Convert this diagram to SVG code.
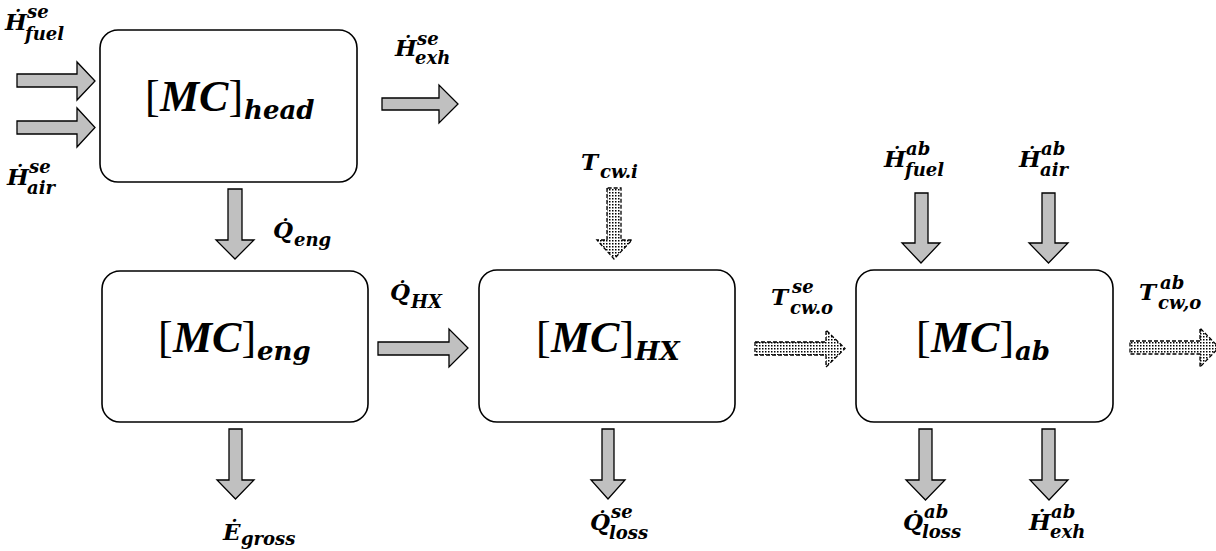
<svg xmlns="http://www.w3.org/2000/svg" width="1216" height="551" viewBox="0 0 1216 551">
<defs>
<pattern id="dots" width="3" height="3" patternUnits="userSpaceOnUse">
<rect width="3" height="3" fill="#fff"/>
<rect width="1.5" height="1.5" fill="#000"/>
</pattern>
</defs>
<style>
.box{fill:#fff;stroke:#000;stroke-width:1.6}
.arr{fill:#c0c0c0;stroke:#000;stroke-width:1.3;stroke-linejoin:miter}
.dot{fill:url(#dots);stroke:#000;stroke-width:1.3;stroke-dasharray:4 2}
text{fill:#000}
.big{font-family:"Liberation Serif","Times New Roman",serif;font-size:44px}
.mi{font-weight:bold;font-style:italic}
.bsub{font-family:"DejaVu Serif",serif;font-size:26px;font-weight:bold;font-style:italic}
.m{font-family:"DejaVu Serif",serif;font-weight:bold;font-style:italic}
.bs{font-size:23px}
.sc{font-size:18px}
</style>
<rect width="1216" height="551" fill="#fff"/>

<g id="node-head">
<rect class="box" x="100" y="30" width="257" height="152" rx="18"/>
<text class="big" y="111"><tspan x="145">[</tspan><tspan class="mi" x="160">MC</tspan><tspan x="228.5">]</tspan><tspan class="bsub" x="244" dy="8">head</tspan></text>
</g>
<g id="node-eng">
<rect class="box" x="102" y="271" width="266" height="151" rx="18"/>
<text class="big" y="352"><tspan x="158">[</tspan><tspan class="mi" x="173">MC</tspan><tspan x="241.5">]</tspan><tspan class="bsub" x="257" dy="8">eng</tspan></text>
</g>
<g id="node-hx">
<rect class="box" x="479" y="270" width="256" height="152" rx="18"/>
<text class="big" y="352"><tspan x="536">[</tspan><tspan class="mi" x="551">MC</tspan><tspan x="619.5">]</tspan><tspan class="bsub" x="635" dy="8">HX</tspan></text>
</g>
<g id="node-ab">
<rect class="box" x="856" y="270" width="257" height="152" rx="18"/>
<text class="big" y="352"><tspan x="916">[</tspan><tspan class="mi" x="931">MC</tspan><tspan x="999.5">]</tspan><tspan class="bsub" x="1015" dy="8">ab</tspan></text>
</g>

<g id="connectors">
<path class="arr" d="M17,74 H77 V62 L95,81 L77,100 V87 H17 Z"/>
<path class="arr" d="M17,121 H77 V108 L95,127.5 L77,147 V134 H17 Z"/>
<path class="arr" d="M382,98 H439 V85 L458,104 L439,123 V110 H382 Z"/>
<path class="arr" d="M228,189 V240 H216 L235,259 L254,240 H242 V189 Z"/>
<path class="arr" d="M378,342 H449 V329 L468,348 L449,367 V355 H378 Z"/>
<path class="arr" d="M229,429 V480 H217 L235.5,499 L254,480 H242 V429 Z"/>
<path class="arr" d="M602,429 V480 H591 L608,499 L625,480 H614 V429 Z"/>
<path class="arr" d="M919,429 V480 H906 L925.5,500 L945,480 H932 V429 Z"/>
<path class="arr" d="M1042,429 V480 H1030 L1049,500 L1068,480 H1055 V429 Z"/>
<path class="arr" d="M915,193 V243 H902 L921,263 L940,243 H928 V193 Z"/>
<path class="arr" d="M1042,193 V243 H1029 L1048.5,263 L1068,243 H1055 V193 Z"/>
<path class="dot" d="M607,188 V240 H597 L614,259 L632,240 H621 V188 Z"/>
<path class="dot" d="M755,342 H826 V330 L845,348.5 L826,367 V355 H755 Z"/>
<path class="dot" d="M1130,341 H1200 V328 L1219,347.5 L1200,367 V354 H1130 Z"/>

<g class="m">
<text class="bs" x="5" y="30">Ḣ</text><text class="sc" x="27" y="18">se</text><text class="sc" x="25" y="40">fuel</text>
<text class="bs" x="7" y="185">Ḣ</text><text class="sc" x="29" y="173">se</text><text class="sc" x="27" y="194">air</text>
<text class="bs" x="395" y="56">Ḣ</text><text class="sc" x="417" y="45">se</text><text class="sc" x="415" y="64">exh</text>
<text class="bs" x="273" y="238">Q̇</text><text class="sc" x="294" y="246">eng</text>
<text class="bs" x="390" y="300">Q̇</text><text class="sc" x="411" y="308">HX</text>
<text class="bs" x="581" y="170">T</text><text class="sc" x="600" y="178">cw.i</text>
<text class="bs" x="771" y="305">T</text><text class="sc" x="792" y="293">se</text><text class="sc" x="790" y="314">cw.o</text>
<text class="bs" x="1139" y="300">T</text><text class="sc" x="1160" y="289">ab</text><text class="sc" x="1158" y="309">cw,o</text>
<text class="bs" x="884" y="167">Ḣ</text><text class="sc" x="906" y="155">ab</text><text class="sc" x="905" y="176">fuel</text>
<text class="bs" x="1019" y="167">Ḣ</text><text class="sc" x="1041" y="155">ab</text><text class="sc" x="1040" y="176">air</text>
<text class="bs" x="223" y="540">Ė</text><text class="sc" x="241" y="545">gross</text>
<text class="bs" x="590" y="530">Q̇</text><text class="sc" x="611" y="518">se</text><text class="sc" x="609" y="539">loss</text>
<text class="bs" x="903" y="530">Q̇</text><text class="sc" x="924" y="518">ab</text><text class="sc" x="922" y="538">loss</text>
<text class="bs" x="1029" y="530">Ḣ</text><text class="sc" x="1051" y="518">ab</text><text class="sc" x="1050" y="538">exh</text>
</g>
</g>
</svg>
